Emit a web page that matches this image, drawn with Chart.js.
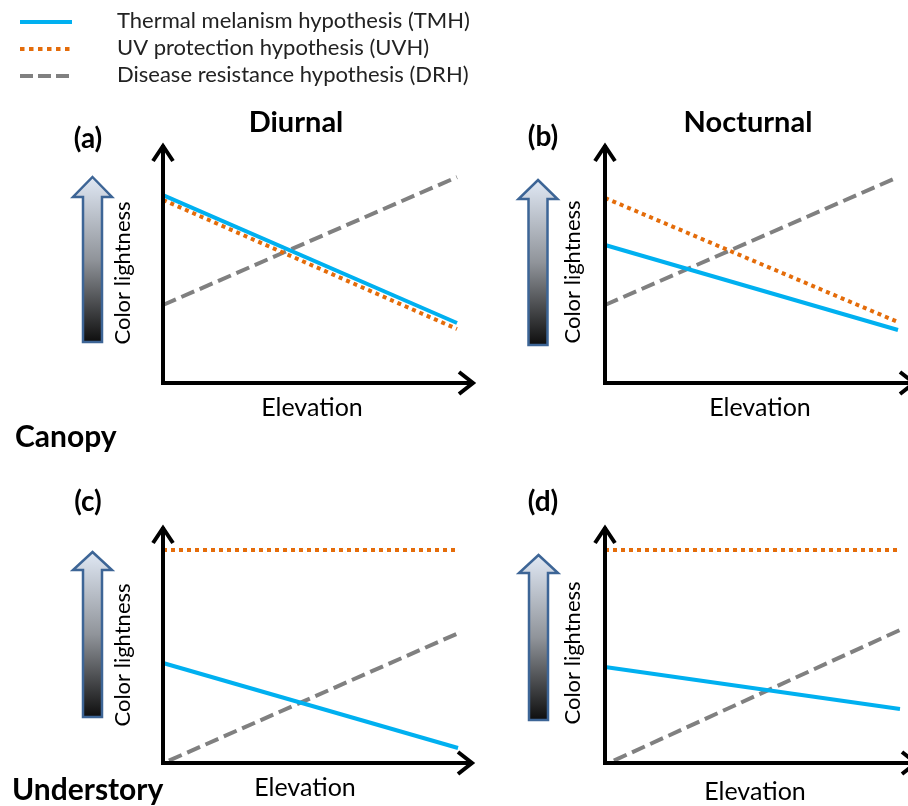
<!DOCTYPE html>
<html>
<head>
<meta charset="utf-8">
<title>Color lightness vs elevation</title>
<script src="https://cdn.jsdelivr.net/npm/chart.js@4.4.1/dist/chart.umd.min.js"></script>
<style>
    body { margin: 0; background: #fff; }
    #wrap { position: relative; width: 908px; height: 806px; overflow: hidden; }
    canvas { position: absolute; }
</style>
</head>
<body>
<div id="wrap">
    <canvas id="panelA" width="480" height="470" style="left:0;top:0"></canvas>
    <canvas id="panelB" width="428" height="470" style="left:480px;top:0"></canvas>
    <canvas id="panelC" width="480" height="336" style="left:0;top:470px"></canvas>
    <canvas id="panelD" width="428" height="336" style="left:480px;top:470px"></canvas>
</div>
<script>
// Series labels
const seriesNames = [
    'Thermal melanism hypothesis (TMH)',
    'UV protection hypothesis (UVH)',
    'Disease resistance hypothesis (DRH)'
];

// Elevation (x) positions, 0 = low, 1 = high
const elevation = [0, 1];
const drhElevationC = [0.02, 1];
const drhElevationD = [0.03, 1];

// Color lightness (y), arbitrary 0-10 units
const tmhA = [7.83, 2.5];
const uvhA = [7.63, 2.25];
const drhA = [3.25, 8.58];

const tmhB = [5.75, 2.21];
const uvhB = [7.71, 2.54];
const drhB = [3.25, 8.58];

const tmhC = [4.2, 0.63];
const uvhC = [8.95, 8.95];
const drhC = [0.1, 5.45];

const tmhD = [4.03, 2.27];
const uvhD = [8.95, 8.95];
const drhD = [0.1, 5.59];

const colors = {
    tmh: '#00b0f0',
    uvh: '#e46c0a',
    drh: '#808080'
};

const FONT = 'Lato, "Open Sans", sans-serif';

function toPoints(xs, ys) {
    return xs.map((x, i) => ({ x: x, y: ys[i] }));
}

// Vertical block arrow with dark-to-light fill
function drawBlockArrow(ctx, a) {
    const g = ctx.createLinearGradient(0, a.top, 0, a.bottom);
    g.addColorStop(0, '#e0e8f4');
    g.addColorStop(0.5, '#90949a');
    g.addColorStop(1, '#0e0e0e');
    ctx.beginPath();
    ctx.moveTo(a.cx, a.top);
    ctx.lineTo(a.cx + 19.5, a.base);
    ctx.lineTo(a.cx + 9.5, a.base);
    ctx.lineTo(a.cx + 9.5, a.bottom);
    ctx.lineTo(a.cx - 9.5, a.bottom);
    ctx.lineTo(a.cx - 9.5, a.base);
    ctx.lineTo(a.cx - 19.5, a.base);
    ctx.closePath();
    ctx.fillStyle = g;
    ctx.fill();
    ctx.lineWidth = 2.5;
    ctx.lineJoin = 'miter';
    ctx.strokeStyle = '#3d6596';
    ctx.stroke();
}

function drawText(ctx, text, x, y, font, align, rotate) {
    ctx.save();
    ctx.translate(x, y);
    if (rotate) ctx.rotate(-Math.PI / 2);
    ctx.font = font;
    ctx.fillStyle = '#000';
    ctx.textAlign = align || 'center';
    ctx.textBaseline = 'middle';
    ctx.fillText(text, 0, 0);
    ctx.restore();
}

// Draws the arrow axes, panel labels and (optionally) the legend
const decorPlugin = {
    id: 'decor',
    afterDatasetsDraw(chart, args, opts) {
        const ctx = chart.ctx;
        const { left, right, top, bottom } = chart.chartArea;
        const tipX = right + opts.overhang;

        ctx.save();
        ctx.strokeStyle = '#000';
        ctx.lineWidth = 4;
        ctx.lineCap = 'butt';
        ctx.lineJoin = 'miter';
        ctx.setLineDash([]);

        ctx.beginPath();
        ctx.moveTo(left, top + 2);
        ctx.lineTo(left, bottom);
        ctx.lineTo(tipX - 2, bottom);
        ctx.stroke();

        // arrow heads
        ctx.beginPath();
        ctx.moveTo(left - 10, top + 18);
        ctx.lineTo(left, top + 3);
        ctx.lineTo(left + 10, top + 18);
        ctx.moveTo(tipX - 16, bottom - 11);
        ctx.lineTo(tipX - 2, bottom);
        ctx.lineTo(tipX - 16, bottom + 11);
        ctx.stroke();

        drawBlockArrow(ctx, opts.arrow);

        drawText(ctx, opts.letter, opts.letterPos[0], opts.letterPos[1], 'bold 28px ' + FONT);
        if (opts.title) {
            drawText(ctx, opts.title, opts.titlePos[0], opts.titlePos[1], 'bold 29px ' + FONT);
        }
        drawText(ctx, 'Color lightness', opts.yLabelPos[0], opts.yLabelPos[1], '22px ' + FONT, 'center', true);
        drawText(ctx, 'Elevation', opts.xLabelPos[0], opts.xLabelPos[1], '25px ' + FONT);
        if (opts.rowLabel) {
            drawText(ctx, opts.rowLabel, opts.rowLabelPos[0], opts.rowLabelPos[1], 'bold 30px ' + FONT, 'left');
        }

        if (opts.legend) {
            chart.data.datasets.forEach((ds, i) => {
                const y = 22 + i * 27;
                ctx.beginPath();
                ctx.strokeStyle = ds.borderColor;
                ctx.lineWidth = ds.borderWidth;
                ctx.setLineDash(ds.legendDash || ds.borderDash || []);
                ctx.moveTo(20, y);
                ctx.lineTo(72, y);
                ctx.stroke();
                ctx.setLineDash([]);
                ctx.font = '22px ' + FONT;
                ctx.fillStyle = '#222';
                ctx.textAlign = 'left';
                ctx.textBaseline = 'middle';
                ctx.fillText(ds.label, 117, y - 1);
            });
        }
        ctx.restore();
    }
};

function makePanel(id, panel) {
    const canvas = document.getElementById(id);
    return new Chart(canvas, {
        type: 'line',
        data: {
            datasets: [
                {
                    label: seriesNames[0],
                    data: toPoints(elevation, panel.tmh),
                    borderColor: colors.tmh,
                    borderWidth: 4
                },
                {
                    label: seriesNames[1],
                    data: toPoints(elevation, panel.uvh),
                    borderColor: colors.uvh,
                    borderWidth: 4,
                    borderDash: [4, 4],
                    legendDash: [4.5, 4.5]
                },
                {
                    label: seriesNames[2],
                    data: toPoints(panel.drhX, panel.drh),
                    borderColor: colors.drh,
                    borderWidth: 4,
                    borderDash: [14, 6],
                    legendDash: [13, 5]
                }
            ]
        },
        options: {
            responsive: false,
            animation: false,
            events: [],
            layout: { padding: panel.padding },
            datasets: { line: { clip: false, pointRadius: 0, tension: 0, borderCapStyle: 'butt' } },
            scales: {
                x: { type: 'linear', min: 0, max: 1, display: false },
                y: { type: 'linear', min: 0, max: 10, display: false }
            },
            plugins: {
                legend: { display: false },
                tooltip: { enabled: false },
                decor: panel.decor
            }
        },
        plugins: [decorPlugin]
    });
}

makePanel('panelA', {
    tmh: tmhA, uvh: uvhA, drh: drhA, drhX: elevation,
    padding: { left: 163, right: 23, top: 143, bottom: 87 },
    decor: {
        overhang: 18,
        letter: '(a)', letterPos: [88, 139],
        title: 'Diurnal', titlePos: [296, 123],
        yLabelPos: [123, 273], xLabelPos: [312, 408],
        rowLabel: 'Canopy', rowLabelPos: [15, 437],
        arrow: { cx: 92.5, top: 177, base: 197, bottom: 342 },
        legend: true
    }
});

makePanel('panelB', {
    tmh: tmhB, uvh: uvhB, drh: drhB, drhX: elevation,
    padding: { left: 125, right: 10, top: 143, bottom: 87 },
    decor: {
        overhang: 18,
        letter: '(b)', letterPos: [63, 137],
        title: 'Nocturnal', titlePos: [268, 123],
        yLabelPos: [93, 272], xLabelPos: [280, 408],
        arrow: { cx: 58, top: 180, base: 199, bottom: 345 }
    }
});

makePanel('panelC', {
    tmh: tmhC, uvh: uvhC, drh: drhC, drhX: drhElevationC,
    padding: { left: 163, right: 22, top: 55, bottom: 43 },
    decor: {
        overhang: 16,
        letter: '(c)', letterPos: [88, 32],
        yLabelPos: [123, 185], xLabelPos: [305, 318],
        rowLabel: 'Understory', rowLabelPos: [12, 320],
        arrow: { cx: 92.5, top: 82, base: 100, bottom: 247 }
    }
});

makePanel('panelD', {
    tmh: tmhD, uvh: uvhD, drh: drhD, drhX: drhElevationD,
    padding: { left: 125, right: 8, top: 55, bottom: 43 },
    decor: {
        overhang: 18,
        letter: '(d)', letterPos: [63, 32],
        yLabelPos: [93, 183], xLabelPos: [275, 322],
        arrow: { cx: 58.5, top: 85, base: 103, bottom: 250 }
    }
});
</script>
</body>
</html>
